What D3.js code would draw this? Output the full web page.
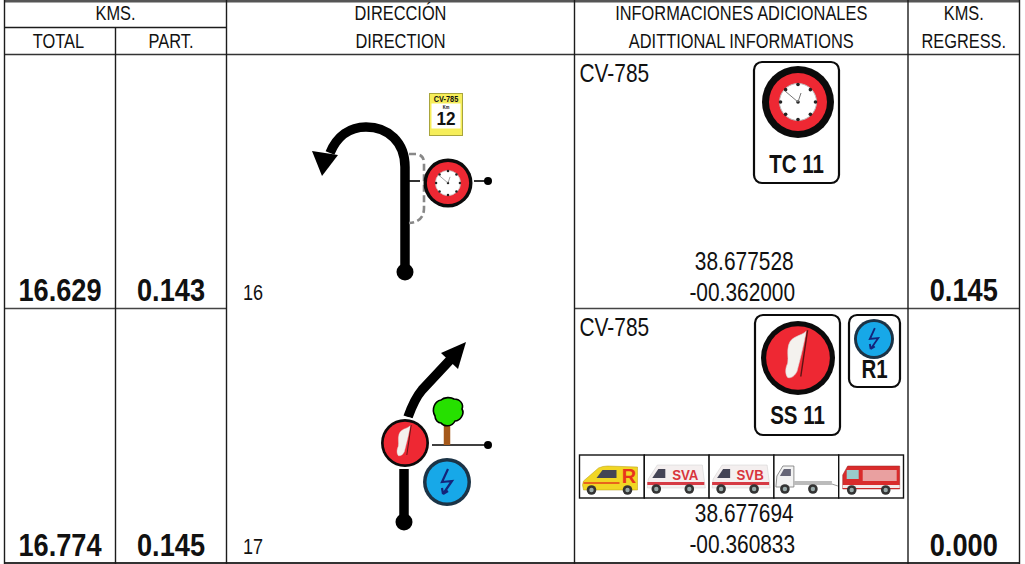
<!DOCTYPE html>
<html lang='en'>
<head>
  <meta charset='UTF-8'>
  <title>Roadbook</title>
  <style>
    body { margin: 0; background: #fff; }
    svg { display: block; }
    text { font-family: 'Liberation Sans', Arial, sans-serif; fill: #111; }
  </style>
</head>
<body>
<div id='panel'></div>
<script src='https://d3js.org/d3.v7.min.js'></script>
<script>
  // table content
  var kmsTotal = ['16.629', '16.774']
  var kmsPart = ['0.143', '0.145']
  var kmsRegress = ['0.145', '0.000']
  var rowIds = ['16', '17']
  var roadCodes = ['CV-785', 'CV-785']
  var latitudes = ['38.677528', '38.677694']
  var longitudes = ['-00.362000', '-00.360833']
  var headerTop = ['KMS.', 'DIRECCIÓN', 'INFORMACIONES ADICIONALES', 'KMS.']
  var headerBottom = ['TOTAL', 'PART.', 'DIRECTION', 'ADITTIONAL INFORMATIONS', 'REGRESS.']
  var columns = ['total', 'part', 'direction', 'info', 'regress']
  var vehicles = ['R', 'SVA', 'SVB', 'tow', 'fire']

  var width = 1025, height = 564
  var narrow = 0.82   // no narrow font installed, squeeze Liberation Sans instead
  var svg = d3.select('#panel').append('svg').attr('width', width).attr('height', height)

  // column edges and row bands
  var colLeft = d3.scaleOrdinal().domain(columns).range([4.5, 115.5, 226.5, 574.5, 908])
  var colRight = d3.scaleOrdinal().domain(columns).range([115.5, 226.5, 574.5, 908, 1019.5])
  var colMid = function (c) { return (colLeft(c) + colRight(c)) / 2 }
  var rowY = d3.scaleBand().domain(d3.range(rowIds.length)).range([54.5, 563])

  var line = function (x1, y1, x2, y2, w, color) {
    return svg.append('line').attr('x1', x1).attr('y1', y1).attr('x2', x2).attr('y2', y2)
      .attr('stroke', color || '#1c1c1c').attr('stroke-width', w || 1.4)
  }
  var label = function (g, x, y, str, size, opts) {
    opts = opts || {}
    return g.append('text').attr('transform', 'translate(' + x + ',' + y + ') scale(' + (opts.sx || narrow) + ',1)')
      .attr('text-anchor', opts.anchor || 'middle')
      .attr('font-size', size).attr('font-weight', opts.bold ? 'bold' : 'normal').text(str)
  }

  // grid
  line(4.5, 1.2, 1019.5, 1.2, 2.4, '#555')
  line(4.5, 27.5, 226.5, 27.5)
  line(4.5, 54.5, 1019.5, 54.5, 1.6, '#333')
  line(4.5, 308.5, 226.5, 308.5, 1.6, '#444')
  line(574.5, 308.5, 1019.5, 308.5, 1.6, '#444')
  line(4.5, 563, 1019.5, 563, 1.8, '#333')
  line(115.5, 27.5, 115.5, 564)
  columns.forEach(function (c) {
    if (c !== 'part') line(colLeft(c), 0, colLeft(c), 564)
  })
  line(1019.5, 0, 1019.5, 564)

  // header
  label(svg, (colLeft('total') + colRight('part')) / 2, 20, headerTop[0], 20)
  label(svg, colMid('direction'), 20, headerTop[1], 20)
  label(svg, colMid('info'), 20, headerTop[2], 20)
  label(svg, colMid('regress'), 20, headerTop[3], 20)
  columns.forEach(function (c, i) {
    label(svg, colMid(c) - (i === 0 ? 1.5 : 0), 47.5, headerBottom[i], 20)
  })

  // body rows
  var rows = svg.selectAll('g.row').data(rowIds).join('g').attr('class', 'row')
  rows.each(function (d, i) {
    var g = d3.select(this)
    var y0 = rowY(i), y1 = y0 + rowY.bandwidth()
    label(g, colMid('total'), y1 - 7.5, kmsTotal[i], 32, {bold: true, sx: 0.85})
    label(g, colMid('part'), y1 - 7.5, kmsPart[i], 32, {bold: true, sx: 0.85})
    label(g, colMid('regress'), y1 - 7.5, kmsRegress[i], 32, {bold: true, sx: 0.85})
    label(g, colLeft('direction') + 16.5, y1 - 9, rowIds[i], 22, {anchor: 'start'})
    label(g, colLeft('info') + 5, y0 + 27, roadCodes[i], 25.5, {anchor: 'start'})
    label(g, colMid('info') + 3, i === 0 ? 269.5 : 521.5, latitudes[i], 25.5)
    label(g, colMid('info') + 1, y1 - (i === 0 ? 8 : 10.5), longitudes[i], 25.5)
  })

  // icons
  var clock = function (cx, cy, r, red, face) {
    var g = svg.append('g').attr('transform', 'translate(' + cx + ',' + cy + ') scale(' + r / 36 + ')')
    g.append('circle').attr('r', 36).attr('fill', '#0b0b0b')
    g.append('circle').attr('r', red).attr('fill', '#ee2833')
    g.append('circle').attr('r', face).attr('fill', '#fff').attr('stroke', '#bbb').attr('stroke-width', 1)
    d3.range(8).forEach(function (k) {
      var a = k * Math.PI / 4
      g.append('circle').attr('cx', (face - 1) * Math.sin(a)).attr('cy', -(face - 1) * Math.cos(a)).attr('r', 1.8).attr('fill', '#222')
    })
    g.append('circle').attr('r', 1.8).attr('fill', '#222')
    g.append('line').attr('x1', 0).attr('y1', 0).attr('x2', -13).attr('y2', -11).attr('stroke', '#777').attr('stroke-width', 1)
    g.append('line').attr('x1', 0).attr('y1', 0).attr('x2', 3).attr('y2', -9).attr('stroke', '#777').attr('stroke-width', 1)
  }
  var flagSign = function (cx, cy, r, red) {
    var g = svg.append('g').attr('transform', 'translate(' + cx + ',' + cy + ') scale(' + r / 36 + ')')
    g.append('circle').attr('r', 36).attr('fill', '#0b0b0b')
    g.append('circle').attr('r', red).attr('fill', '#ee2833')
    g.append('path').attr('d', 'M8,-26C3,-21 -6,-22 -9,-13C-11,-6 -9,-1 -10,5C-12,9 -13,15 -10,19C-6,20 -3,17 -1,13C1,5 4,-5 8,-26Z')
      .attr('fill', '#f4f2ee').attr('stroke', '#ddd').attr('stroke-width', .6)
    g.append('line').attr('x1', 9.3).attr('y1', -27).attr('x2', 2.7).attr('y2', 18).attr('stroke', '#5b1414').attr('stroke-width', 1.4)
  }
  var boltSign = function (cx, cy, r) {
    var g = svg.append('g').attr('transform', 'translate(' + cx + ',' + cy + ') scale(' + r / 24 + ')')
    g.append('circle').attr('r', 24).attr('fill', '#1b3346')
    g.append('circle').attr('r', 20.5).attr('fill', '#17a8e8')
    g.append('path').attr('d', 'M1,-13L-5,0L5,-1L-4,12M-4,12L-5,6M-4,12L1,9')
      .attr('fill', 'none').attr('stroke', '#14247a').attr('stroke-width', 2.2)
  }
  var card = function (x, y, w, h, str, ty) {
    svg.append('rect').attr('x', x).attr('y', y).attr('width', w).attr('height', h).attr('rx', 8)
      .attr('fill', '#fff').attr('stroke', '#0b0b0b').attr('stroke-width', 2.2)
    label(svg, x + w / 2, ty, str, 25, {bold: true})
  }
  var pth = function (d, w, color, fill) {
    return svg.append('path').attr('d', d).attr('fill', fill || 'none').attr('stroke', color || 'none')
      .attr('stroke-width', w || 0)
  }

  // row 1 direction
  pth('M405,272L405,167C405,142 388,127 366,127C350,127 337,136 330,153', 9.5, '#000')
  pth('M322,176L312,151L338,155Z', 0, null, '#000')
  svg.append('circle').attr('cx', 405).attr('cy', 272).attr('r', 8.5)
  pth('M409,154L416,154Q424,155 424,163L424,208Q424,222 409,223', 2.6, '#888').attr('stroke-dasharray', '7 3.5')
  line(409, 181, 420, 181, 1.6, '#000')
  line(474, 181, 488, 181, 1.6, '#000')
  svg.append('circle').attr('cx', 488).attr('cy', 181).attr('r', 4)
  clock(448, 183, 24.5, 31, 18.5)
  // km marker
  svg.append('rect').attr('x', 429.5).attr('y', 93.5).attr('width', 33).attr('height', 42).attr('fill', '#f6ee5a').attr('stroke', '#a9a53c')
  svg.append('rect').attr('x', 431.5).attr('y', 103.5).attr('width', 29).attr('height', 25).attr('fill', '#fff')
  label(svg, 446, 102, 'CV-785', 9, {bold: true})
  label(svg, 446, 109, 'Km', 5, {bold: true})
  label(svg, 446, 125, '12', 19, {bold: true, sx: 0.9})

  // row 1 info
  card(754, 62, 85, 121, 'TC 11', 172.5)
  clock(798, 102, 36, 29, 18.5)

  // row 2 direction
  pth('M408,417C413,403 416,397 422,390L450,360', 9.5, '#000')
  pth('M466,342L441,353L458,369Z', 0, null, '#000')
  line(404, 469, 404, 522, 9.5, '#000')
  svg.append('circle').attr('cx', 404).attr('cy', 522).attr('r', 8.5)
  line(432, 445, 488, 445, 1.6, '#000')
  svg.append('circle').attr('cx', 488).attr('cy', 445).attr('r', 4)
  line(447, 425, 447, 445, 6.5, '#a5591b')
  pth('M435,416C431,409 435,401 441,400C444,397 451,397 454,399C460,399 464,404 462,409C465,414 460,421 455,421C452,427 444,427 441,423C438,423 435,420 435,416Z', 1.6, '#000', '#26e000')
  svg.append('circle').attr('cx', 405).attr('cy', 443).attr('r', 26).attr('fill', '#fff')
  flagSign(405, 443, 24, 32)
  boltSign(447, 482, 24)

  // row 2 info
  card(755, 315, 85, 120, 'SS 11', 423.5)
  flagSign(798, 358, 37, 31)
  card(849, 315, 51, 72, 'R1', 378)
  boltSign(874, 339, 20)

  // vehicle strip
  var vehX = d3.scaleBand().domain(vehicles).range([579.5, 903.5])
  var wheel = function (g, x, y) {
    g.append('circle').attr('cx', x).attr('cy', y).attr('r', 4.8).attr('fill', '#333')
    g.append('circle').attr('cx', x).attr('cy', y).attr('r', 2.2).attr('fill', '#9aa')
  }
  var stripY = 455
  vehicles.forEach(function (v) {
    var g = svg.append('g').attr('transform', 'translate(' + vehX(v) + ',' + stripY + ')')
    g.append('rect').attr('width', vehX.bandwidth()).attr('height', 43).attr('fill', '#fff').attr('stroke', '#111').attr('stroke-width', 1.4)
    if (v === 'R') {
      g.append('path').attr('d', 'M3,30L4,26L19,13Q23,11 28,11L58,12L58,35L4,35Z').attr('fill', '#f1d624').attr('stroke', '#b59a10').attr('stroke-width', .5)
      g.append('path').attr('d', 'M17,23L23,15L37,15L37,23Z').attr('fill', '#445')
      g.append('rect').attr('x', 4).attr('y', 27).attr('width', 36).attr('height', 2).attr('fill', '#e8641c')
      wheel(g, 12, 35); wheel(g, 48, 35)
      label(g, 49.5, 28, 'R', 20, {bold: true, sx: 1}).style('fill', '#e8341c')
    } else if (v === 'SVA' || v === 'SVB') {
      g.append('path').attr('d', 'M3,33L4,24L13,10L58,10L61,33Z').attr('fill', '#f4efef').attr('stroke', '#ccc').attr('stroke-width', .5)
      g.append('path').attr('d', 'M8,23L14,14L21,14L21,23Z').attr('fill', '#445')
      g.append('rect').attr('x', 3).attr('y', 27).attr('width', 57).attr('height', 3).attr('fill', '#d63a44')
      label(g, 41, 25, v, 14, {bold: true, sx: 0.95}).style('fill', '#d8343c')
      wheel(g, 12, 34); wheel(g, 45, 34)
    } else if (v === 'tow') {
      g.append('path').attr('d', 'M2,32L3,21L9,11L20,11L20,32Z').attr('fill', '#f3f3f3').attr('stroke', '#777').attr('stroke-width', .8)
      g.append('path').attr('d', 'M6,21L10,14L17,14L17,21Z').attr('fill', '#667')
      g.append('rect').attr('x', 20).attr('y', 26).attr('width', 38).attr('height', 4).attr('fill', '#bbb')
      g.append('line').attr('x1', 58).attr('y1', 29).attr('x2', 64).attr('y2', 31).attr('stroke', '#999')
      wheel(g, 11, 34); wheel(g, 39, 34)
    } else {
      g.append('path').attr('d', 'M4,34L4,20L9,11L61,11L61,34Z').attr('fill', '#d92b2b').attr('stroke', '#922').attr('stroke-width', .5)
      g.append('rect').attr('x', 8).attr('y', 15).attr('width', 12).attr('height', 9).attr('fill', '#9cc')
      g.append('rect').attr('x', 24).attr('y', 15).attr('width', 34).attr('height', 11).attr('fill', '#e9a0a0')
      g.append('rect').attr('x', 4).attr('y', 30).attr('width', 57).attr('height', 3).attr('fill', '#f3e8e8')
      wheel(g, 13, 35); wheel(g, 47, 35)
    }
  })
</script>
</body>
</html>
